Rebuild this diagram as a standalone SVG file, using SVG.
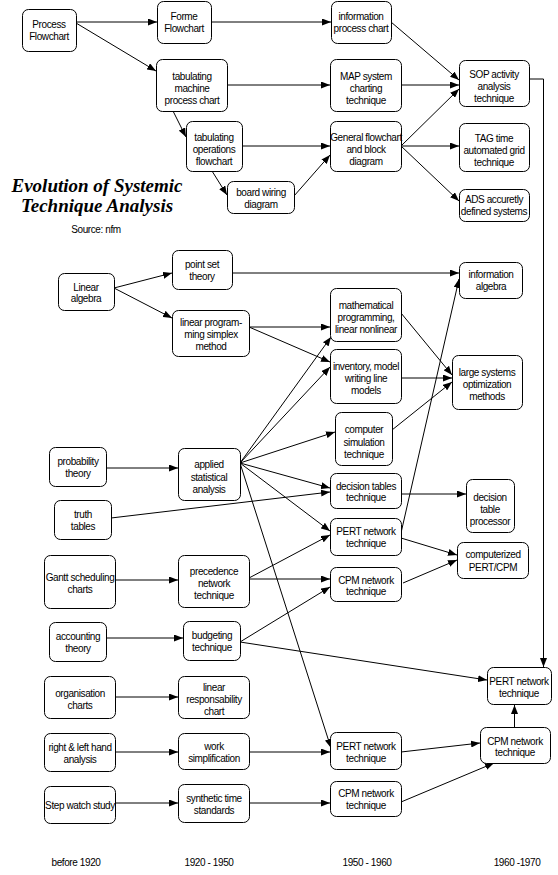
<svg xmlns="http://www.w3.org/2000/svg" width="558" height="875" viewBox="0 0 558 875">
<style>
.n rect{fill:#fff;stroke:#000;stroke-width:1}
text{font-family:"Liberation Sans",Arial,sans-serif;font-size:10px;letter-spacing:-0.4px;text-anchor:middle;fill:#000}
.c line,.c polyline{stroke:#000;stroke-width:1;fill:none;marker-end:url(#ah)}
.t{font-family:"Liberation Serif","Times New Roman",serif;font-size:19px;font-weight:bold;font-style:italic;letter-spacing:0}
</style>
<defs>
<marker id="ah" viewBox="0 0 9 7" refX="9" refY="3.5" markerWidth="9" markerHeight="7" markerUnits="userSpaceOnUse" orient="auto"><path d="M0,0 L9,3.5 L0,7 z" fill="#000"/></marker>
</defs>
<rect width="558" height="875" fill="#fff"/>
<g id="title">
<text class="t" x="97" y="192">Evolution of Systemic</text>
<text class="t" x="97" y="212">Technique Analysis</text>
<text x="96" y="233">Source: nfm</text>
</g>
<g id="periods">
<text x="76" y="866">before 1920</text>
<text x="209" y="866">1920 - 1950</text>
<text x="367" y="866">1950 - 1960</text>
<text x="517" y="866">1960 -1970</text>
</g>
<g class="c" id="connectors">
<line x1="76" y1="22" x2="157" y2="22"/>
<line x1="76" y1="23" x2="156" y2="71"/>
<line x1="211" y1="22" x2="331" y2="22"/>
<line x1="227" y1="85" x2="330" y2="85"/>
<line x1="173" y1="111" x2="186" y2="137"/>
<line x1="242" y1="146" x2="330" y2="146"/>
<line x1="212" y1="171" x2="227" y2="195"/>
<line x1="294" y1="196" x2="330" y2="155"/>
<line x1="391" y1="22" x2="459" y2="80"/>
<line x1="401" y1="85" x2="459" y2="85"/>
<line x1="401" y1="146" x2="459" y2="89"/>
<line x1="401" y1="146" x2="459" y2="146"/>
<line x1="401" y1="146" x2="459" y2="201"/>
<polyline points="529,79 543.5,79 543.5,667"/>
<line x1="114" y1="288" x2="172" y2="273"/>
<line x1="114" y1="288" x2="172" y2="318"/>
<line x1="232" y1="273" x2="459" y2="273"/>
<line x1="249" y1="327" x2="330" y2="327"/>
<line x1="249" y1="327" x2="330" y2="362"/>
<line x1="401" y1="313" x2="452" y2="375"/>
<line x1="401" y1="378" x2="452" y2="378"/>
<line x1="392" y1="430" x2="452" y2="382"/>
<line x1="401" y1="533" x2="459" y2="279"/>
<line x1="106" y1="468" x2="178" y2="468"/>
<line x1="111" y1="518" x2="330" y2="492"/>
<line x1="240" y1="463" x2="331" y2="337"/>
<line x1="240" y1="463" x2="330" y2="367"/>
<line x1="240" y1="463" x2="335" y2="432"/>
<line x1="240" y1="463" x2="330" y2="488"/>
<line x1="240" y1="463" x2="330" y2="531"/>
<line x1="240" y1="463" x2="331" y2="748"/>
<line x1="115" y1="580" x2="178" y2="580"/>
<line x1="249" y1="578" x2="330" y2="535"/>
<line x1="249" y1="579" x2="330" y2="579"/>
<line x1="240" y1="642" x2="330" y2="587"/>
<line x1="240" y1="642" x2="487" y2="680"/>
<line x1="106" y1="638" x2="183" y2="638"/>
<line x1="115" y1="697" x2="178" y2="697"/>
<line x1="115" y1="752" x2="178" y2="752"/>
<line x1="115" y1="803" x2="178" y2="803"/>
<line x1="249" y1="752" x2="330" y2="752"/>
<line x1="249" y1="803" x2="330" y2="803"/>
<line x1="401" y1="752" x2="480" y2="743"/>
<line x1="401" y1="802" x2="494" y2="763"/>
<line x1="514.5" y1="727" x2="514.5" y2="705"/>
<line x1="401" y1="494" x2="466" y2="494"/>
<line x1="401" y1="538" x2="457" y2="555"/>
<line x1="403" y1="583" x2="457" y2="560"/>
</g>
<g class="n" id="n1"><rect x="22.5" y="9.5" width="54" height="42" rx="6"/><text x="49" y="28">Process</text><text x="49" y="40">Flowchart</text></g>
<g class="n" id="n2"><rect x="157.5" y="1.5" width="54" height="42" rx="6"/><text x="184" y="20">Forme</text><text x="184" y="32">Flowchart</text></g>
<g class="n" id="n3"><rect x="331.5" y="1.5" width="60" height="42" rx="6"/><text x="361" y="20">information</text><text x="361" y="32">process chart</text></g>
<g class="n" id="n4"><rect x="156.5" y="59.5" width="71" height="52" rx="6"/><text x="192" y="80">tabulating</text><text x="192" y="92">machine</text><text x="192" y="104">process chart</text></g>
<g class="n" id="n5"><rect x="330.5" y="59.5" width="71" height="52" rx="6"/><text x="366" y="80">MAP system</text><text x="366" y="92">charting</text><text x="366" y="104">technique</text></g>
<g class="n" id="n6"><rect x="186.5" y="121.5" width="56" height="50" rx="6"/><text x="214" y="141">tabulating</text><text x="214" y="153">operations</text><text x="214" y="165">flowchart</text></g>
<g class="n" id="n7"><rect x="330.5" y="121.5" width="71" height="50" rx="6"/><text x="366" y="141">General flowchart</text><text x="366" y="153">and block</text><text x="366" y="165">diagram</text></g>
<g class="n" id="n8"><rect x="227.5" y="181.5" width="67" height="32" rx="6"/><text x="261" y="195.5">board wiring</text><text x="261" y="207.5">diagram</text></g>
<g class="n" id="n9"><rect x="459.5" y="60.5" width="70" height="46" rx="6"/><text x="494" y="78">SOP activity</text><text x="494" y="90">analysis</text><text x="494" y="102">technique</text></g>
<g class="n" id="n10"><rect x="459.5" y="123.5" width="70" height="48" rx="6"/><text x="494" y="142">TAG time</text><text x="494" y="154">automated grid</text><text x="494" y="166">technique</text></g>
<g class="n" id="n11"><rect x="459.5" y="189.5" width="70" height="32" rx="6"/><text x="494" y="203">ADS accuretly</text><text x="494" y="215">defined systems</text></g>
<g class="n" id="n12"><rect x="58.5" y="273.5" width="56" height="37" rx="6"/><text x="86" y="290.5">Linear</text><text x="86" y="302">algebra</text></g>
<g class="n" id="n13"><rect x="172.5" y="250.5" width="60" height="39" rx="6"/><text x="202" y="268">point set</text><text x="202" y="280">theory</text></g>
<g class="n" id="n14"><rect x="172.5" y="310.5" width="77" height="46" rx="6"/><text x="211" y="326">linear program-</text><text x="211" y="338">ming simplex</text><text x="211" y="350">method</text></g>
<g class="n" id="n15"><rect x="459.5" y="262.5" width="63" height="36" rx="6"/><text x="491" y="278">information</text><text x="491" y="290">algebra</text></g>
<g class="n" id="n16"><rect x="330.5" y="288.5" width="71" height="53" rx="6"/><text x="366" y="309">mathematical</text><text x="366" y="321">programming,</text><text x="366" y="333">linear nonlinear</text></g>
<g class="n" id="n17"><rect x="330.5" y="349.5" width="71" height="54" rx="6"/><text x="366" y="370">inventory, model</text><text x="366" y="382">writing line</text><text x="366" y="394">models</text></g>
<g class="n" id="n18"><rect x="452.5" y="355.5" width="70" height="54" rx="6"/><text x="487" y="376">large systems</text><text x="487" y="388">optimization</text><text x="487" y="400">methods</text></g>
<g class="n" id="n19"><rect x="49.5" y="447.5" width="57" height="39" rx="6"/><text x="78" y="465">probability</text><text x="78" y="477">theory</text></g>
<g class="n" id="n20"><rect x="178.5" y="448.5" width="62" height="52" rx="6"/><text x="209" y="468">applied</text><text x="209" y="481">statistical</text><text x="209" y="493">analysis</text></g>
<g class="n" id="n21"><rect x="54.5" y="500.5" width="57" height="39" rx="6"/><text x="83" y="518">truth</text><text x="83" y="530">tables</text></g>
<g class="n" id="n22"><rect x="335.5" y="412.5" width="57" height="53" rx="6"/><text x="364" y="433">computer</text><text x="364" y="445.5">simulation</text><text x="364" y="457.5">technique</text></g>
<g class="n" id="n23"><rect x="330.5" y="473.5" width="71" height="35" rx="6"/><text x="366" y="489.5">decision tables</text><text x="366" y="501">technique</text></g>
<g class="n" id="n24"><rect x="466.5" y="479.5" width="48" height="53" rx="6"/><text x="490" y="500.5">decision</text><text x="490" y="512.5">table</text><text x="490" y="524.5">processor</text></g>
<g class="n" id="n25"><rect x="330.5" y="518.5" width="71" height="37" rx="6"/><text x="366" y="535">PERT network</text><text x="366" y="547">technique</text></g>
<g class="n" id="n26"><rect x="457.5" y="542.5" width="71" height="36" rx="6"/><text x="493" y="558">computerized</text><text x="493" y="570.5">PERT/CPM</text></g>
<g class="n" id="n27"><rect x="44.5" y="555.5" width="71" height="53" rx="6"/><text x="80" y="581">Gantt scheduling</text><text x="80" y="593">charts</text></g>
<g class="n" id="n28"><rect x="178.5" y="555.5" width="71" height="52" rx="6"/><text x="214" y="575">precedence</text><text x="214" y="587">network</text><text x="214" y="599">technique</text></g>
<g class="n" id="n29"><rect x="330.5" y="567.5" width="71" height="34" rx="6"/><text x="366" y="583.5">CPM network</text><text x="366" y="595">technique</text></g>
<g class="n" id="n30"><rect x="49.5" y="622.5" width="57" height="39" rx="6"/><text x="78" y="640">accounting</text><text x="78" y="651.5">theory</text></g>
<g class="n" id="n31"><rect x="183.5" y="621.5" width="57" height="39" rx="6"/><text x="212" y="639">budgeting</text><text x="212" y="650.5">technique</text></g>
<g class="n" id="n32"><rect x="487.5" y="667.5" width="64" height="37" rx="6"/><text x="519" y="684.5">PERT network</text><text x="519" y="696.5">technique</text></g>
<g class="n" id="n33"><rect x="44.5" y="676.5" width="71" height="42" rx="6"/><text x="80" y="697">organisation</text><text x="80" y="709">charts</text></g>
<g class="n" id="n34"><rect x="178.5" y="676.5" width="71" height="42" rx="6"/><text x="214" y="690.5">linear</text><text x="214" y="702.5">responsability</text><text x="214" y="714.5">chart</text></g>
<g class="n" id="n35"><rect x="44.5" y="733.5" width="71" height="38" rx="6"/><text x="80" y="751">right &amp; left hand</text><text x="80" y="763">analysis</text></g>
<g class="n" id="n36"><rect x="178.5" y="733.5" width="71" height="36" rx="6"/><text x="214" y="750">work</text><text x="214" y="762">simplification</text></g>
<g class="n" id="n37"><rect x="330.5" y="732.5" width="71" height="37" rx="6"/><text x="366" y="750">PERT network</text><text x="366" y="762">technique</text></g>
<g class="n" id="n38"><rect x="480.5" y="727.5" width="70" height="36" rx="6"/><text x="515" y="744.5">CPM network</text><text x="515" y="756">technique</text></g>
<g class="n" id="n39"><rect x="44.5" y="786.5" width="71" height="37" rx="6"/><text x="80" y="809">Step watch study</text></g>
<g class="n" id="n40"><rect x="178.5" y="784.5" width="71" height="38" rx="6"/><text x="214" y="802">synthetic time</text><text x="214" y="814">standards</text></g>
<g class="n" id="n41"><rect x="330.5" y="781.5" width="71" height="35" rx="6"/><text x="366" y="797">CPM network</text><text x="366" y="808.5">technique</text></g>
</svg>
